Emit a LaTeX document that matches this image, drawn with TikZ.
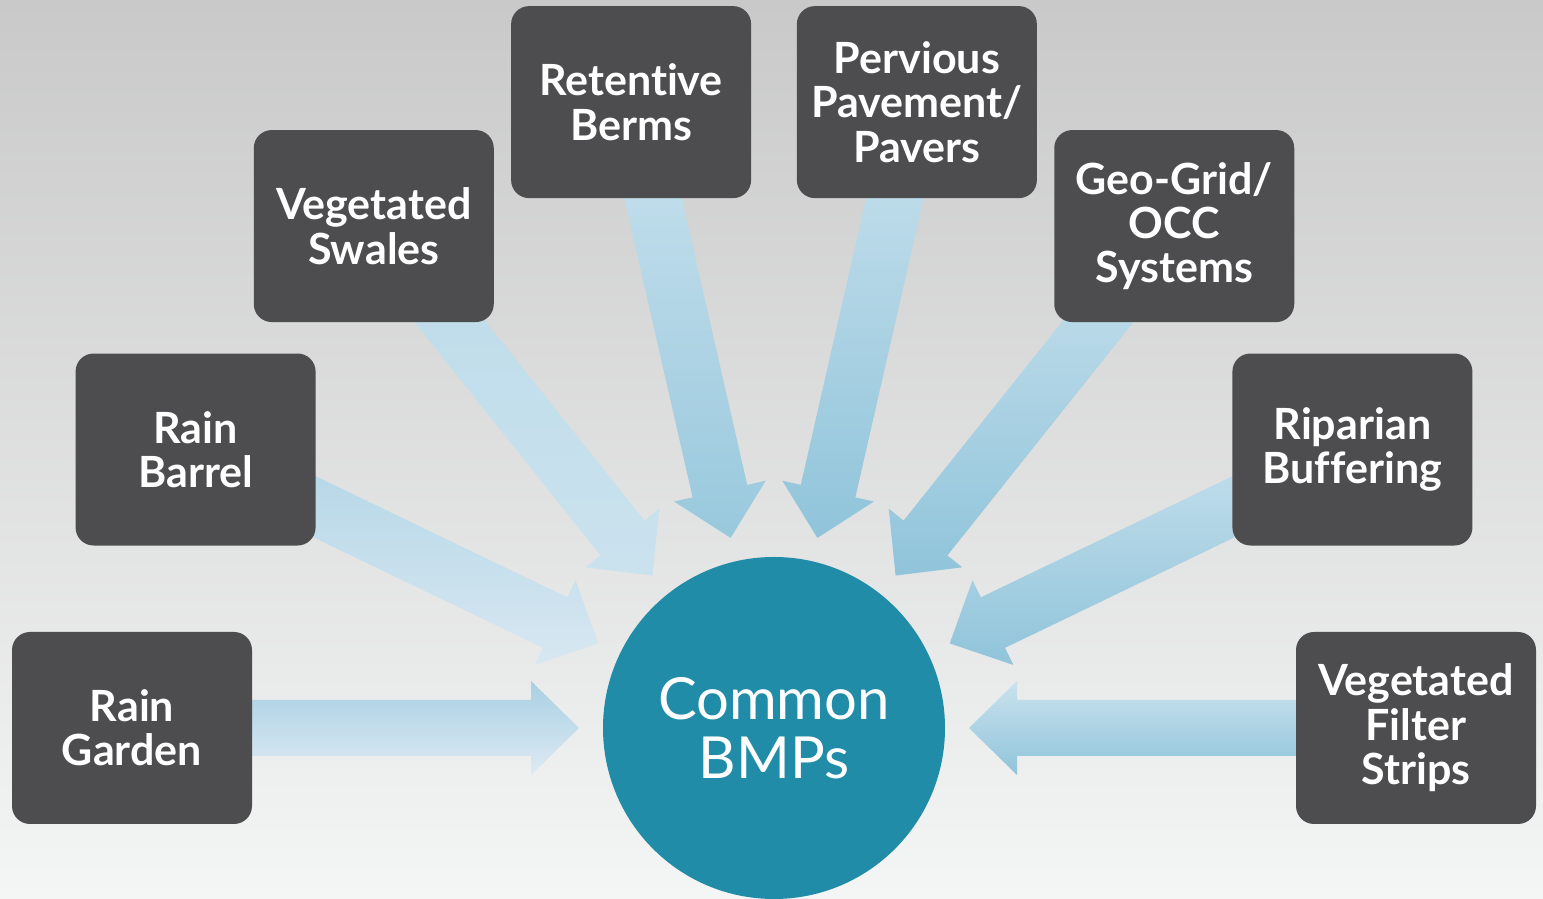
\documentclass[tikz,border=0pt]{standalone}
\usepackage{fontspec}
\setmainfont{Lato}[Ligatures=NoCommon]
\usetikzlibrary{calc}
\definecolor{boxgray}{HTML}{4D4D4F}
\definecolor{bmpteal}{HTML}{208CA8}
\definecolor{bgtop}{HTML}{C9C9C9}
\definecolor{bgbottom}{HTML}{F4F5F5}
\definecolor{deepblue}{HTML}{90C4DA}
\definecolor{midblue}{HTML}{A8D0E3}
\definecolor{paleblue}{HTML}{CAE2EE}
\definecolor{faintblue}{HTML}{DEEAF3}
\pgfdeclarelayer{back}
\pgfdeclarelayer{arrows}
\pgfsetlayers{back,arrows,main}

% block arrow from a box towards the BMP circle
% #1 box, #2 shading angle, #3 colour at the box, #4 colour at the tip
\newcommand{\feedarrow}[4]{%
  \coordinate (#1-tip) at ($(bmp.center)!97.5pt!(#1.center)$);
  \coordinate (#1-head) at ($(bmp.center)!121.5pt!(#1.center)$);
  \shade[shading=axis, shading angle=#2, top color=#3, bottom color=#4]
    ($(#1.center)!14pt!90:(bmp.center)$) -- ($(#1-head)!14pt!90:(bmp.center)$)
    -- ($(#1-head)!23.5pt!90:(bmp.center)$) -- (#1-tip)
    -- ($(#1-head)!23.5pt!-90:(bmp.center)$) -- ($(#1-head)!14pt!-90:(bmp.center)$)
    -- ($(#1.center)!14pt!-90:(bmp.center)$) -- cycle;
}

\begin{document}
\begin{tikzpicture}[x=0.5pt, y=0.5pt,
    bmpbox/.style={rectangle, rounded corners=9pt, fill=boxgray, text=white,
      minimum width=120pt, minimum height=96pt, inner sep=0pt, align=center,
      font=\fontsize{21.5}{22.2}\selectfont\bfseries},
    bmpcircle/.style={circle, fill=bmpteal, text=white, minimum size=171pt,
      inner sep=0pt, align=center, font=\fontsize{29}{29.5}\selectfont}]
    % Background
    \begin{pgfonlayer}{back}
        \shade[top color=bgtop, bottom color=bgbottom] (0,0) rectangle (1543,899);
    \end{pgfonlayer}
    \useasboundingbox (0,0) rectangle (1543,899);

    % The centre and the practices around it
    \node[bmpcircle] (bmp) at (774,171) {Common\\BMPs};
    \node[bmpbox] (garden) at ($(bmp)+(180:642)$) {Rain\\Garden};
    \node[bmpbox] (barrel) at ($(bmp)+(154.29:642)$) {Rain\\Barrel};
    \node[bmpbox] (swales) at ($(bmp)+(128.57:642)$) {Vegetated\\Swales};
    \node[bmpbox] (berms) at ($(bmp)+(102.86:642)$) {Retentive\\Berms};
    \node[bmpbox] (pervious) at ($(bmp)+(77.14:642)$) {Pervious\\Pavement/\\Pavers};
    \node[bmpbox] (geogrid) at ($(bmp)+(51.43:642)$) {Geo-Grid/\\OCC\\Systems};
    \node[bmpbox] (riparian) at ($(bmp)+(25.71:642)$) {Riparian\\Buffering};
    \node[bmpbox] (filter) at ($(bmp)+(0:642)$) {Vegetated\\Filter\\Strips};

    % Arrows into the circle
    \begin{pgfonlayer}{arrows}
        \feedarrow{garden}{90}{midblue}{faintblue}
        \feedarrow{barrel}{64.29}{midblue!80!paleblue}{faintblue!70!paleblue}
        \feedarrow{swales}{38.57}{midblue!40!paleblue}{paleblue}
        \feedarrow{berms}{12.86}{paleblue}{deepblue!85!paleblue}
        \feedarrow{pervious}{-12.86}{paleblue}{deepblue}
        \feedarrow{geogrid}{-38.57}{paleblue}{deepblue}
        \feedarrow{riparian}{-64.29}{paleblue}{deepblue}
        \feedarrow{filter}{-90}{paleblue}{deepblue}
    \end{pgfonlayer}
\end{tikzpicture}
\end{document}
